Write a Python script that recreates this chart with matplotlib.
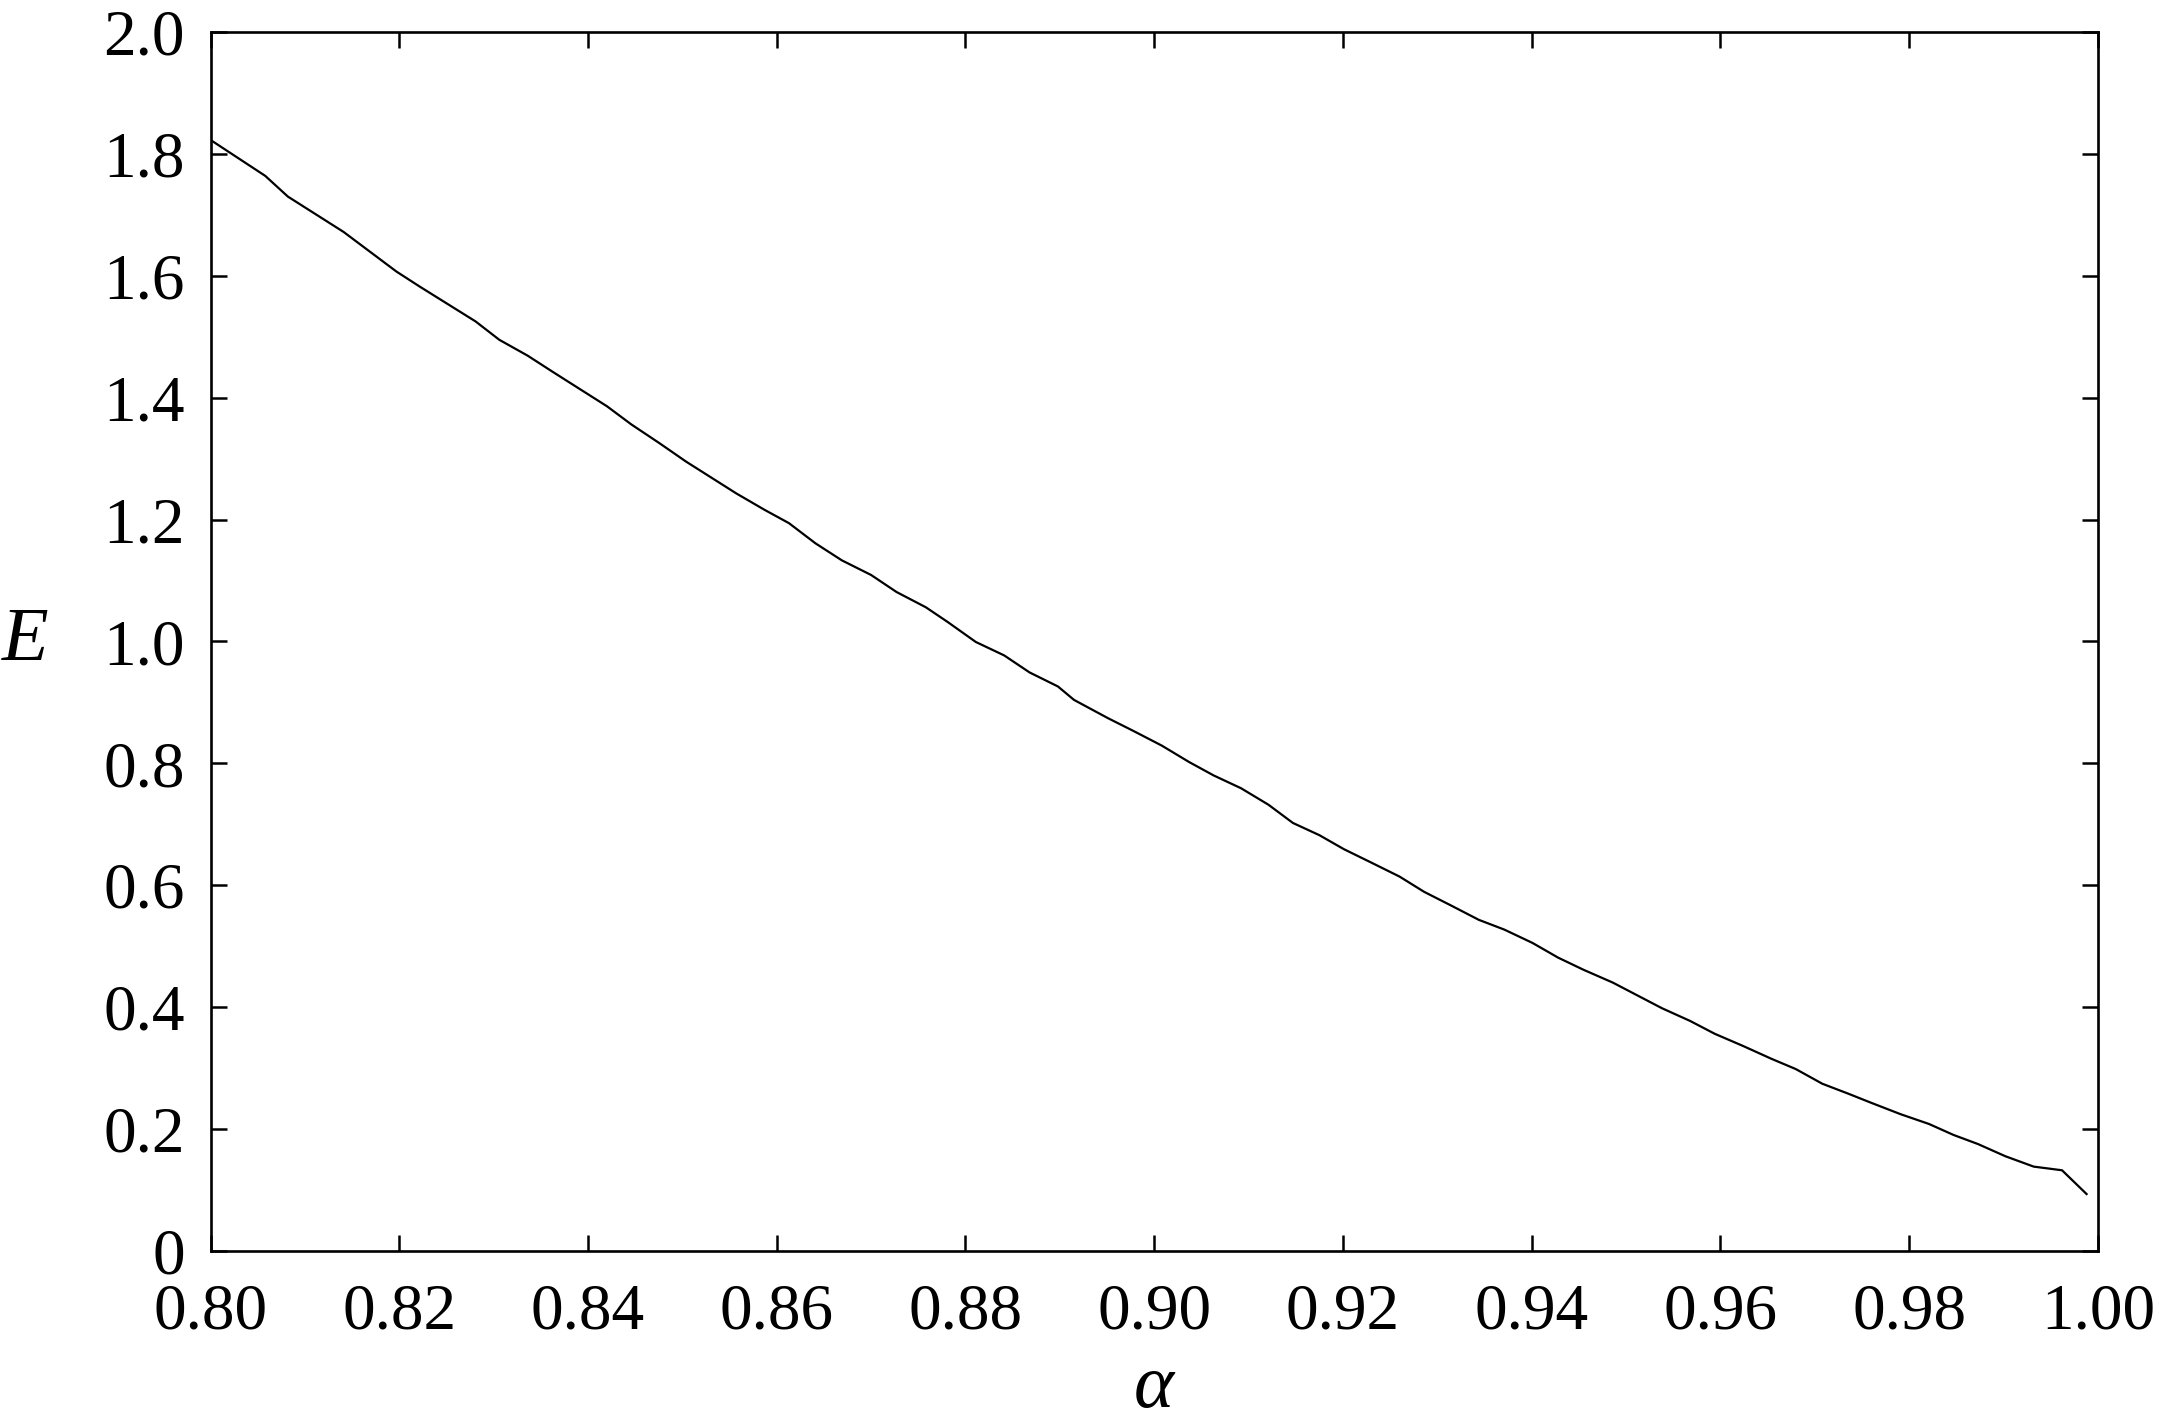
import numpy as np
import matplotlib
matplotlib.use('Agg')
import matplotlib.pyplot as plt

# values
alpha = [0.800, 0.8058, 0.8082, 0.8141, 0.8197, 0.8222, 0.8281, 0.8306, 0.8336, 0.8364,
         0.8420, 0.8446, 0.8476, 0.8504, 0.8557, 0.8587, 0.8613, 0.8641, 0.8669, 0.8700,
         0.8727, 0.8758, 0.8781, 0.8811, 0.8841, 0.8868, 0.8898, 0.8915, 0.8951, 0.8978,
         0.9008, 0.9037, 0.9063, 0.9092, 0.9121, 0.9147, 0.9175, 0.9201, 0.9230, 0.9260,
         0.9286, 0.9314, 0.9344, 0.9371, 0.9401, 0.9428, 0.9455, 0.9486, 0.9512, 0.9538,
         0.9568, 0.9594, 0.9624, 0.9654, 0.9680, 0.9708, 0.9735, 0.9761, 0.9791, 0.9821,
         0.9847, 0.9873, 0.9902, 0.9932, 0.9962, 0.9988]
E = [1.823, 1.764, 1.730, 1.672, 1.607, 1.582, 1.525, 1.495, 1.469, 1.441,
     1.386, 1.356, 1.325, 1.295, 1.243, 1.216, 1.194, 1.161, 1.133, 1.109,
     1.081, 1.056, 1.032, 0.999, 0.977, 0.949, 0.926, 0.904, 0.874, 0.853,
     0.829, 0.802, 0.780, 0.759, 0.732, 0.702, 0.682, 0.659, 0.637, 0.614,
     0.589, 0.567, 0.543, 0.527, 0.505, 0.481, 0.461, 0.440, 0.419, 0.398,
     0.377, 0.356, 0.336, 0.315, 0.298, 0.274, 0.258, 0.242, 0.224, 0.208,
     0.190, 0.175, 0.155, 0.138, 0.132, 0.093]

xticks = [0.80, 0.82, 0.84, 0.86, 0.88, 0.90, 0.92, 0.94, 0.96, 0.98, 1.00]
yticks = [0, 0.2, 0.4, 0.6, 0.8, 1.0, 1.2, 1.4, 1.6, 1.8, 2.0]
xlabels = ['%.2f' % v for v in xticks]
ylabels = ['0'] + ['%.1f' % v for v in yticks[1:]]

plt.rcParams['font.family'] = ['Liberation Serif', 'DejaVu Serif']

fig = plt.figure(figsize=(21.59, 14.19), dpi=100)
ax = fig.add_axes([0.0975, 0.1186, 0.8742, 0.8588])
ax.plot(alpha, E, color='black', lw=1.6)

ax.set_xlim(0.80, 1.00)
ax.set_ylim(0, 2.0)
ax.set_xticks(xticks)
ax.set_xticklabels(xlabels)
ax.set_yticks(yticks)
ax.set_yticklabels(ylabels)
ax.tick_params(direction='in', length=11.5, width=1.8, labelsize=47,
               top=True, right=True)
ax.tick_params(axis='x', pad=23)
ax.tick_params(axis='y', pad=18.5)
for s in ax.spines.values():
    s.set_linewidth(1.9)

ax.set_xlabel('α', fontsize=55, fontstyle='italic', va='baseline')
ax.xaxis.set_label_coords(0.5, -0.128)
ax.set_ylabel('E', fontsize=55, fontstyle='italic', rotation=0, va='center', ha='center')
ax.yaxis.set_label_coords(-0.098, 0.5)

fig.savefig('out.png', dpi=100)
